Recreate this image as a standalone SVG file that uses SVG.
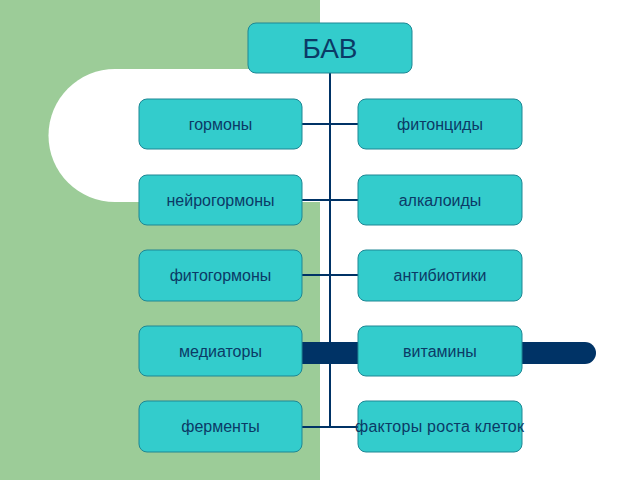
<svg xmlns="http://www.w3.org/2000/svg" width="640" height="480" viewBox="0 0 640 480">
<style>
.box{fill:#33cccc;stroke:#1e8794;stroke-width:1}
.lbl{font-family:"Liberation Sans",Arial,sans-serif;font-size:16px;fill:#0b3a66;text-anchor:middle}
.con{stroke:#003366;stroke-width:2;fill:none}
</style>
<rect x="0" y="0" width="640" height="480" fill="#ffffff"/>
<rect x="0" y="0" width="320" height="480" fill="#9ccc98"/>
<path d="M320,69 H115 A66.5,66.5 0 0 0 115,202 H320 Z" fill="#ffffff"/>
<path d="M302,342 H585 A11,11 0 0 1 585,364 H302 Z" fill="#003366"/>
<g id="connectors">
<line class="con" x1="330" y1="73" x2="330" y2="427"/>
<line class="con" x1="302" y1="124" x2="358" y2="124"/>
<line class="con" x1="302" y1="200" x2="358" y2="200"/>
<line class="con" x1="302" y1="275" x2="358" y2="275"/>
<line class="con" x1="302" y1="351" x2="358" y2="351"/>
<line class="con" x1="302" y1="427" x2="358" y2="427"/>
</g>
<g id="bav"><rect class="box" x="248" y="23" width="164" height="50" rx="8"/><text class="lbl" x="330" y="58" style="font-size:28px">БАВ</text></g>
<g id="gormony"><rect class="box" x="139" y="99" width="163" height="50" rx="8"/><text class="lbl" x="220.5" y="130">гормоны</text></g>
<g id="fitoncidy"><rect class="box" x="358" y="99" width="164" height="50" rx="8"/><text class="lbl" x="440" y="130">фитонциды</text></g>
<g id="neirogormony"><rect class="box" x="139" y="175" width="163" height="50" rx="8"/><text class="lbl" x="220.5" y="206">нейрогормоны</text></g>
<g id="alkaloidy"><rect class="box" x="358" y="175" width="164" height="50" rx="8"/><text class="lbl" x="440" y="206">алкалоиды</text></g>
<g id="fitogormony"><rect class="box" x="139" y="250" width="163" height="51" rx="8"/><text class="lbl" x="220.5" y="281">фитогормоны</text></g>
<g id="antibiotiki"><rect class="box" x="358" y="250" width="164" height="51" rx="8"/><text class="lbl" x="440" y="281">антибиотики</text></g>
<g id="mediatory"><rect class="box" x="139" y="326" width="163" height="50" rx="8"/><text class="lbl" x="220.5" y="357">медиаторы</text></g>
<g id="vitaminy"><rect class="box" x="358" y="326" width="164" height="50" rx="8"/><text class="lbl" x="440" y="357">витамины</text></g>
<g id="fermenty"><rect class="box" x="139" y="401" width="163" height="51" rx="8"/><text class="lbl" x="220.5" y="432">ферменты</text></g>
<g id="faktory"><rect class="box" x="358" y="401" width="164" height="51" rx="8"/><text class="lbl" x="439.5" y="432" textLength="169" lengthAdjust="spacing">факторы роста клеток</text></g>
</svg>
